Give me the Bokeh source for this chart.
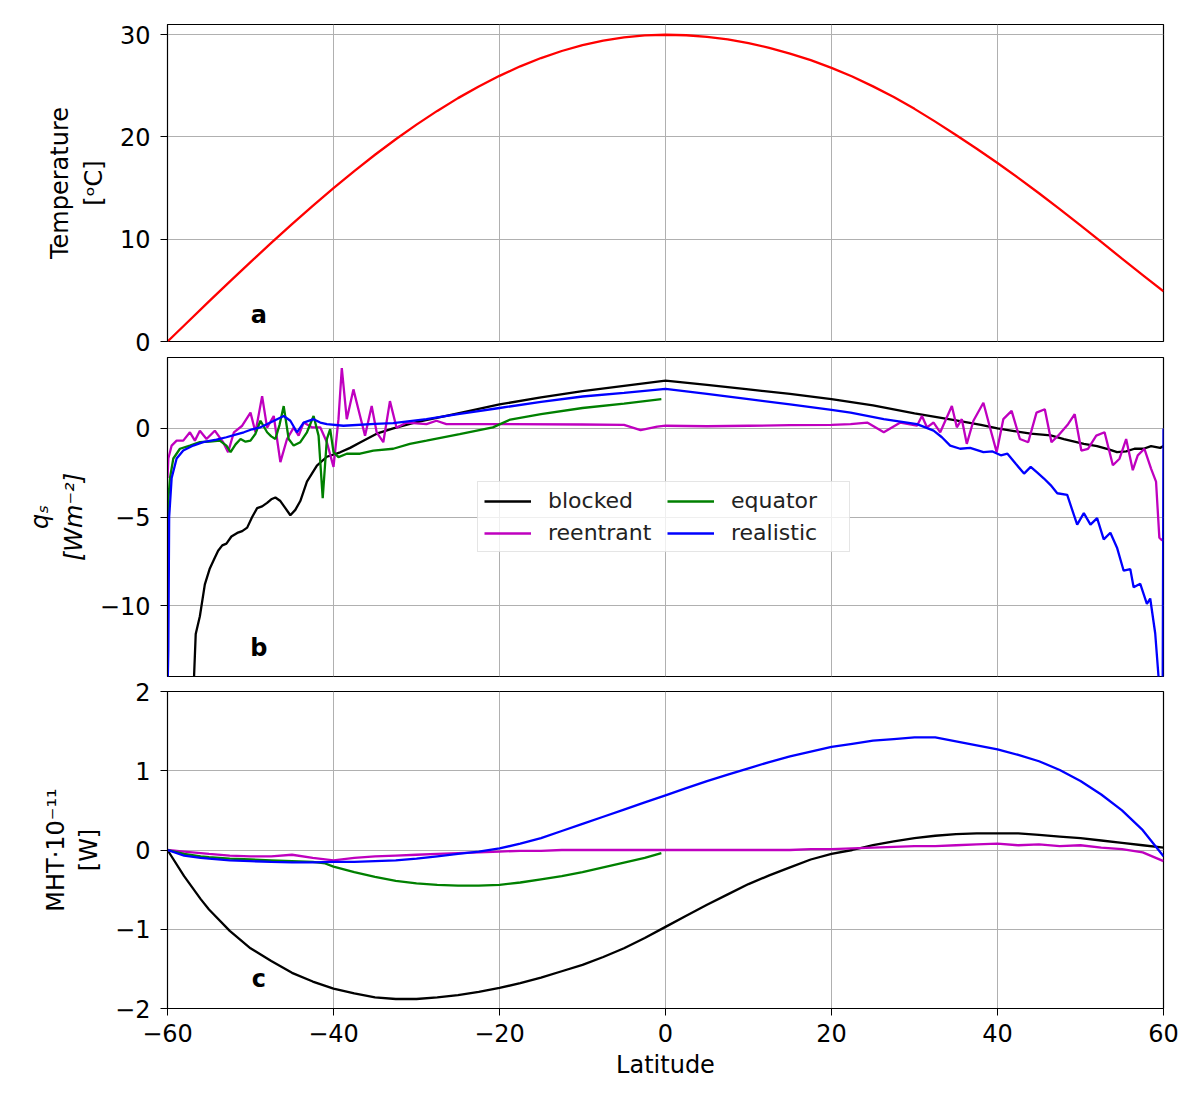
from bokeh.plotting import figure
from bokeh.layouts import column
from bokeh.models import FixedTicker, Label, Legend, LegendItem, Range1d
from bokeh.embed import file_html
from bokeh.resources import INLINE

FONT = "DejaVu Sans"

# ---------------- panel a: temperature ----------------
temp_lat = [-60, -57.5, -55, -52.5, -50, -47.5, -45, -42.5, -40, -37.5, -35, -32.5, -30, -27.5, -25,
            -22.5, -20, -17.5, -15, -12.5, -10, -7.5, -5, -2.5, 0,
            2.5, 5, 7.5, 10, 12.5, 15, 17.5, 20, 22.5, 25, 27.5, 30, 32.5, 35, 37.5, 40, 42.5, 45,
            47.5, 50, 52.5, 55, 57.5, 60]
temp_val = [0.0, 1.96, 3.92, 5.85, 7.76, 9.64, 11.48, 13.27, 15.0, 16.67, 18.26, 19.78, 21.21, 22.55, 23.80,
            24.94, 25.98, 26.91, 27.72, 28.41, 28.98, 29.42, 29.74, 29.94, 30.0,
            29.95, 29.79, 29.54, 29.18, 28.72, 28.16, 27.51, 26.76, 25.92, 24.95, 23.9, 22.75, 21.5, 20.2,
            18.85, 17.45, 16.0, 14.5, 12.95, 11.35, 9.75, 8.1, 6.5, 4.9]

# ---------------- panel b: surface heat flux q_s ----------------
qs_blocked_lat = [-57.2, -56.8, -56.6, -56.1, -55.5, -54.9, -54.4, -53.9, -53.4, -52.9, -52.3, -51.6, -51.0,
                  -50.4, -49.8, -49.2, -48.6, -48.0, -47.5, -47.0, -46.4, -45.8, -45.2, -44.6, -44.0, -43.2,
                  -42.0, -40.8, -39.2, -38.0, -36.8, -34.8, -32.8, -30.0, -25.0, -20.0, -15.0, -10.0, -5.0,
                  0.0, 5.0, 10.0, 15.0, 20.0, 25.0, 30.0, 35.0, 38.0, 40.0, 42.0, 44.0, 46.4, 48.0, 50.4,
                  52.0, 53.5, 54.4, 55.5, 56.5, 57.6, 58.5, 59.6, 60.0]
qs_blocked = [-15.0, -14.0, -11.6, -10.6, -8.8, -7.9, -7.4, -6.9, -6.6, -6.5, -6.1, -5.9, -5.8,
              -5.6, -5.0, -4.5, -4.4, -4.2, -4.0, -3.9, -4.1, -4.5, -4.9, -4.6, -4.1, -3.0,
              -2.1, -1.6, -1.35, -1.1, -0.8, -0.3, 0.0, 0.35, 0.85, 1.35, 1.75, 2.1, 2.4,
              2.7, 2.45, 2.2, 1.95, 1.65, 1.3, 0.85, 0.45, 0.2, 0.0, -0.15, -0.3, -0.4, -0.6, -0.87,
              -1.0, -1.2, -1.34, -1.3, -1.15, -1.15, -1.0, -1.1, -1.0]

qs_reentrant_lat = [-60.0, -59.9, -59.5, -58.9, -58.1, -57.3, -56.7, -56.1, -55.3, -54.3, -53.3, -52.7, -52.0,
                    -51.0, -50.0, -49.4, -48.6, -48.0, -47.2, -46.4, -45.6, -44.8, -44.2, -43.6, -42.6,
                    -41.6, -40.8, -40.0, -39.4, -39.0, -38.4, -37.6, -36.8, -36.2, -35.4, -34.8, -34.0,
                    -33.2, -32.4, -31.2, -28.8, -27.6, -26.4, -20.0, -10.0, -5.0, -3.0, -1.0, 0.0, 5.0,
                    10.0, 15.0, 20.0, 22.3, 24.3, 26.3, 28.3, 30.3, 30.9, 31.5, 32.3, 33.1, 34.5, 35.1,
                    35.7, 36.3, 37.1, 38.3, 39.1, 39.9, 40.7, 41.7, 42.7, 43.7, 44.7, 45.7, 46.5, 47.3,
                    48.5, 49.3, 50.1, 50.9, 51.9, 52.9, 53.9, 54.7, 55.5, 56.3, 56.9, 57.7, 58.5, 59.1,
                    59.5, 59.8, 60.0]
qs_reentrant = [-2.8, -1.7, -0.97, -0.69, -0.69, -0.22, -0.69, -0.13, -0.6, -0.13, -0.78, -1.34, -0.22,
                0.15, 0.89, -0.22, 1.82, 0.04, 0.7, -1.9, -0.6, 0.04, -0.41, 0.33, 0.06,
                0.06, -0.78, -2.17, 0.52, 3.4, 0.52, 2.2, 0.7, -0.41, 1.26, -0.22, -0.78,
                1.54, 0.04, 0.33, 0.24, 0.43, 0.24, 0.24, 0.22, 0.2, -0.1, 0.1, 0.15, 0.12,
                0.15, 0.18, 0.2, 0.24, 0.33, -0.22, 0.33, 0.15, 0.7, 0.06, 0.33, -0.22, 1.26, 0.06,
                0.52, -0.87, 0.43, 1.45, 0.04, -1.34, 0.52, 0.99, -0.6, -0.78, 0.89, 1.08, -0.78, -0.41,
                0.24, 0.8, -1.25, -1.15, -0.41, -0.22, -2.08, -1.71, -0.6, -2.36, -1.52, -1.15, -2.27, -3.0,
                -6.17, -6.3, -6.3]

qs_equator_lat = [-60.0, -59.9, -59.7, -59.3, -58.5, -57.3, -56.1, -54.9, -53.7, -52.9, -52.4, -51.8, -51.2,
                  -50.6, -50.0, -49.4, -48.8, -48.0, -47.5, -47.0, -46.5, -46.0, -45.4, -44.8, -44.0,
                  -43.2, -42.4, -41.8, -41.3, -40.8, -40.4, -40.0, -39.4, -38.4, -36.8, -35.2, -32.8,
                  -30.8, -28.8, -24.8, -20.8, -18.7, -15.0, -10.0, -5.0, -0.5]
qs_equator = [-6.0, -4.0, -2.8, -1.7, -1.15, -0.97, -0.78, -0.74, -0.69, -0.97, -1.34, -0.9, -0.6,
              -0.75, -0.69, -0.3, 0.43, -0.22, -0.45, -0.6, 0.2, 1.26, -0.6, -0.97, -0.78,
              -0.22, 0.7, -0.41, -3.94, -0.6, -0.04, -1.34, -1.62, -1.43, -1.43, -1.25, -1.15,
              -0.87, -0.69, -0.32, 0.06, 0.5, 0.8, 1.15, 1.4, 1.65]

qs_realistic_lat = [-60.0, -59.9, -59.8, -59.5, -58.9, -58.1, -56.9, -55.7, -54.1, -52.9, -51.8, -50.8, -49.8,
                    -48.8, -47.6, -46.8, -46.0, -45.2, -44.4, -43.6, -42.4, -41.6, -40.8, -38.8, -35.0,
                    -32.8, -28.8, -25.0, -20.0, -15.0, -10.0, -5.0, 0.0, 5.0, 10.0, 15.0, 20.0, 22.3, 26.3,
                    30.3, 32.3, 33.3, 34.3, 35.5, 36.7, 38.3, 39.4, 40.4, 41.2, 42.2, 43.2, 44.0, 44.8,
                    45.6, 46.4, 47.2, 48.4, 49.0, 49.6, 50.4, 51.2, 52.0, 52.8, 53.6, 54.4, 55.2, 56.0,
                    56.4, 57.2, 58.0, 58.4, 59.0, 59.4, 59.6, 59.9, 60.0]
qs_realistic = [-15.0, -12.5, -5.0, -2.8, -1.7, -1.25, -0.97, -0.78, -0.63, -0.5, -0.35, -0.22, -0.05,
                0.06, 0.33, 0.52, 0.7, 0.43, -0.22, 0.33, 0.52, 0.33, 0.24, 0.15, 0.25,
                0.3, 0.52, 0.8, 1.15, 1.5, 1.8, 2.0, 2.23, 1.95, 1.65, 1.35, 1.05, 0.89, 0.52,
                0.24, -0.13, -0.5, -0.97, -1.15, -1.1, -1.34, -1.3, -1.52, -1.43, -2.0, -2.55, -2.17, -2.5,
                -2.83, -3.2, -3.66, -3.75, -4.6, -5.43, -4.78, -5.43, -5.06, -6.26, -5.89, -6.73, -8.03, -7.94,
                -8.96, -8.77, -9.9, -9.6, -11.56, -14.0, -15.0, -15.0, 0.0]

# ---------------- panel c: meridional heat transport ----------------
mht_lat = [-60, -58, -56, -55, -52.5, -50, -47.5, -45, -42.5, -40, -37.5, -35, -32.5, -30, -27.5, -25,
           -22.5, -20, -17.5, -15, -12.5, -10, -7.5, -5, -2.5, 0, 2.5, 5, 7.5, 10, 12.5, 15, 17.5, 20,
           22.5, 25, 27.5, 30, 32.5, 35, 37.5, 40, 42.5, 45, 47.5, 50, 52.5, 55, 57.5, 60]
mht_blocked = [0.0, -0.33, -0.62, -0.75, -1.02, -1.24, -1.40, -1.55, -1.66, -1.75, -1.81, -1.86, -1.88, -1.88,
               -1.86, -1.83, -1.79, -1.74, -1.68, -1.61, -1.53, -1.45, -1.35, -1.24, -1.11, -0.97, -0.83,
               -0.69, -0.56, -0.43, -0.32, -0.22, -0.12, -0.05, 0.0, 0.06, 0.11, 0.15, 0.18, 0.2, 0.21, 0.21,
               0.21, 0.19, 0.17, 0.15, 0.12, 0.09, 0.06, 0.03]
mht_reentrant = [0.0, -0.02, -0.04, -0.05, -0.07, -0.08, -0.08, -0.06, -0.1, -0.13, -0.1, -0.08, -0.07, -0.06,
                 -0.05, -0.04, -0.03, -0.02, -0.01, -0.01, 0.0, 0.0, 0.0, 0.0, 0.0, 0.0, 0.0, 0.0, 0.0, 0.0,
                 0.0, 0.0, 0.01, 0.01, 0.02, 0.03, 0.04, 0.05, 0.05, 0.06, 0.07, 0.08, 0.06, 0.07, 0.05, 0.06,
                 0.03, 0.01, -0.03, -0.14]
mht_realistic = [0.0, -0.07, -0.1, -0.11, -0.13, -0.14, -0.15, -0.155, -0.155, -0.15, -0.15, -0.14, -0.13, -0.11,
                 -0.08, -0.05, -0.02, 0.02, 0.08, 0.15, 0.24, 0.33, 0.42, 0.51, 0.6, 0.69, 0.78, 0.87, 0.95,
                 1.03, 1.11, 1.18, 1.24, 1.30, 1.34, 1.38, 1.40, 1.42, 1.42, 1.37, 1.32, 1.27, 1.2, 1.12, 1.01,
                 0.87, 0.7, 0.5, 0.25, -0.08]
mht_equator_lat = [-60, -58, -56, -55, -52.5, -50, -47.5, -45, -42.5, -41, -40, -37.5, -35, -32.5, -30,
                   -27.5, -25, -22.5, -20, -17.5, -15, -12.5, -10, -7.5, -5, -2.5, -0.5]
mht_equator = [0.0, -0.05, -0.08, -0.09, -0.11, -0.12, -0.13, -0.14, -0.15, -0.17, -0.21, -0.28, -0.34, -0.39,
               -0.42, -0.44, -0.45, -0.45, -0.44, -0.41, -0.37, -0.33, -0.28, -0.22, -0.16, -0.10, -0.04]

x_ticks = [-60, -40, -20, 0, 20, 40, 60]
x_labels = {-60: "−60", -40: "−40", -20: "−20", 0: "0", 20: "20", 40: "40", 60: "60"}

COL_BLOCKED = "black"
COL_REENTRANT = "#bf00bf"
COL_EQUATOR = "#008000"
COL_REALISTIC = "#0000ff"
GRID = "#b0b0b0"
LW = 2.3
FS = "24px"


def make_fig(yr, yticks, ylabels, ylabel, top, bottom, fh, show_x, label_italic=False):
    p = figure(frame_width=996, frame_height=fh,
               x_range=Range1d(-60, 60), y_range=Range1d(*yr),
               output_backend="svg", toolbar_location=None,
               min_border_left=167, min_border_right=25,
               min_border_top=top, min_border_bottom=bottom)
    p.outline_line_color = "black"
    p.outline_line_width = 1.2
    p.outline_line_alpha = 1.0
    p.xaxis.ticker = FixedTicker(ticks=x_ticks)
    p.yaxis.ticker = FixedTicker(ticks=yticks)
    p.xgrid.ticker = FixedTicker(ticks=x_ticks)
    p.ygrid.ticker = FixedTicker(ticks=yticks)
    for g in (p.xgrid, p.ygrid):
        g.grid_line_color = GRID
        g.grid_line_width = 1
    p.yaxis.major_label_overrides = ylabels
    p.xaxis.major_label_overrides = x_labels
    for ax in (p.xaxis, p.yaxis):
        ax.major_tick_out = 7
        ax.major_tick_in = 0
        ax.minor_tick_out = 0
        ax.minor_tick_in = 0
        ax.axis_line_color = "black"
        ax.major_tick_line_color = "black"
        ax.major_label_text_font = FONT
        ax.major_label_text_font_size = FS
        ax.major_label_text_color = "black"
        ax.axis_label_text_font = FONT
        ax.axis_label_text_font_size = FS
        ax.axis_label_text_font_style = "normal"
        ax.axis_label_text_color = "black"
    p.yaxis.major_label_standoff = 10
    p.xaxis.major_label_standoff = 8
    p.yaxis.axis_label = ylabel
    p.yaxis.axis_label_standoff = 9
    if label_italic:
        p.yaxis.axis_label_text_font_style = "italic"
    if not show_x:
        p.xaxis.visible = False
    else:
        p.xaxis.axis_label = "Latitude"
        p.xaxis.axis_label_standoff = 6
    return p


def panel_label(p, y, txt):
    p.add_layout(Label(x=-49, y=y, text=txt, text_font=FONT, text_font_size=FS,
                       text_font_style="bold", text_color="black",
                       text_align="center", text_baseline="middle"))


# panel a
p1 = make_fig((0, 31), [0, 10, 20, 30], {0: "0", 10: "10", 20: "20", 30: "30"},
              "Temperature\n[ᵒC]", 24, 15, 317, False)
p1.line(temp_lat, temp_val, line_color="red", line_width=LW)
panel_label(p1, 2.6, "a")

# panel b
p2 = make_fig((-14, 4), [-10, -5, 0], {-10: "−10", -5: "−5", 0: "0"},
              "qₛ\n[Wm⁻²]", 1, 1, 319, False, label_italic=True)
r_b = p2.line(qs_blocked_lat, qs_blocked, line_color=COL_BLOCKED, line_width=LW)
r_r = p2.line(qs_reentrant_lat, qs_reentrant, line_color=COL_REENTRANT, line_width=LW)
r_e = p2.line(qs_equator_lat, qs_equator, line_color=COL_EQUATOR, line_width=LW)
r_l = p2.line(qs_realistic_lat, qs_realistic, line_color=COL_REALISTIC, line_width=LW)
panel_label(p2, -12.4, "b")
legend = Legend(items=[LegendItem(label="blocked", renderers=[r_b]),
                       LegendItem(label="reentrant", renderers=[r_r]),
                       LegendItem(label="equator", renderers=[r_e]),
                       LegendItem(label="realistic", renderers=[r_l])],
                location=(310, 124), nrows=2)
legend.label_text_font = FONT
legend.label_text_font_size = "22px"
legend.label_text_color = "#222222"
legend.glyph_width = 47
legend.glyph_height = 22
legend.label_height = 22
legend.label_width = 112
legend.label_standoff = 17
legend.spacing = 7
legend.padding = 6
legend.margin = 0
legend.border_line_color = "#cccccc"
legend.border_line_width = 1
legend.background_fill_alpha = 0.8
p2.add_layout(legend)

# panel c
p3 = make_fig((-2, 2), [-2, -1, 0, 1, 2], {-2: "−2", -1: "−1", 0: "0", 1: "1", 2: "2"},
              "MHT·10⁻¹¹\n[W]", 14, 82, 317, True)
p3.line(mht_lat, mht_blocked, line_color=COL_BLOCKED, line_width=LW)
p3.line(mht_lat, mht_reentrant, line_color=COL_REENTRANT, line_width=LW)
p3.line(mht_equator_lat, mht_equator, line_color=COL_EQUATOR, line_width=LW)
p3.line(mht_lat, mht_realistic, line_color=COL_REALISTIC, line_width=LW)
panel_label(p3, -1.63, "c")

layout = column(p1, p2, p3, spacing=0)
open("out.html", "w").write(file_html(layout, INLINE))
